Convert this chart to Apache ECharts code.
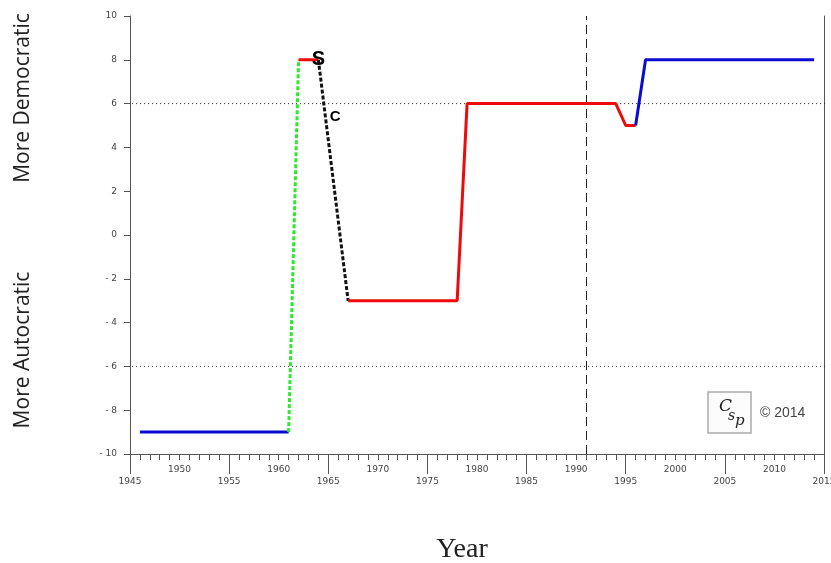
<!DOCTYPE html>
<html>
<head>
<meta charset="utf-8">
<script src="https://cdn.jsdelivr.net/npm/echarts@6/dist/echarts.min.js"></script>
<style>
html,body{margin:0;padding:0;background:#fff;}
#chart{width:831px;height:563px;}
</style>
</head>
<body>
<div id="chart"></div>
<script>
// ---- data ----
var blueEarly   = [[1946,-9],[1961,-9]];
var greenShift  = [[1961,-9],[1962,8]];
var redShort    = [[1962,8],[1964,8]];
var blackShift  = [[1964,8],[1967,-3]];
var redLong     = [[1967,-3],[1978,-3],[1979,6],[1994,6],[1995,5],[1996,5]];
var blueLate    = [[1996,5],[1997,8],[2014,8]];
var eventMarks  = [[1964,8,'S'],[1965.7,5.4,'C']];
var refLevels   = [6,-6];
var eventYear   = 1991;
var longTickYears = [1945,1955,1965,1975,1985,1995,2005,2015];

var chart = echarts.init(document.getElementById('chart'));

function seg(name, data, color, type){
  return {
    name: name, type: 'line', data: data, showSymbol: false, symbol: 'none',
    lineStyle: {color: color, width: 3, type: type || 'solid'},
    z: 5
  };
}

var refSeries = refLevels.map(function(v){
  return {
    type: 'line', data: [[1944, v],[2015.8, v]], clip: false, showSymbol: false, symbol:'none',
    lineStyle: {color: '#222', width: 1, type: [1,3]}, z: 2, silent: true
  };
});

var option = {
  animation: false,
  backgroundColor: '#fff',
  grid: {left: 130, right: 7, top: 16, bottom: 109, containLabel: false, outerBoundsMode: 'none'},
  xAxis: [{
    type: 'value', min: 1945, max: 2015, interval: 5,
    axisLine: {show: true, onZero: false, lineStyle: {color: '#555', width: 1}},
    axisTick: {show: true, length: 6, lineStyle: {color: '#555'}},
    minorTick: {show: true, splitNumber: 5, length: 6, lineStyle: {color: '#555'}},
    splitLine: {show: false},
    axisLabel: {
      fontFamily: 'DejaVu Sans', fontSize: 9, color: '#444', margin: 10, lineHeight: 12,
      formatter: function(v){ return (v % 10 === 0) ? String(v) : '\n' + v; }
    }
  },{
    type: 'value', min: 1945, max: 2015, position: 'bottom',
    axisLine: {show: false, onZero: false},
    axisTick: {show: true, length: 20, customValues: longTickYears, lineStyle: {color: '#555'}},
    axisLabel: {show: false},
    splitLine: {show: false}
  }],
  yAxis: [{
    type: 'value', min: -10, max: 10, interval: 2,
    axisLine: {show: true, onZero: false, lineStyle: {color: '#555', width: 1}},
    axisTick: {show: true, length: 6, lineStyle: {color: '#555'}},
    splitLine: {show: false},
    axisLabel: {fontFamily: 'DejaVu Sans', fontSize: 9, color: '#444', margin: 13,
      formatter: function(v){ return v < 0 ? '- ' + Math.abs(v) : String(v); }}
  },{
    type: 'value', min: -10, max: 10, position: 'right',
    axisLine: {show: true, onZero: false, lineStyle: {color: '#555', width: 1}},
    axisTick: {show: false}, axisLabel: {show: false}, splitLine: {show: false}
  }],
  series: [
    seg('blueEarly', blueEarly, '#0a0ad2'),
    seg('greenShift', greenShift, '#2de82d', [4,2]),
    seg('redShort', redShort, '#ee0a0a'),
    seg('blackShift', blackShift, '#111', [4,2]),
    seg('redLong', redLong, '#ee0a0a'),
    seg('blueLate', blueLate, '#0a0ad2'),
    {
      type: 'line', data: [], showSymbol: false,
      markLine: {
        symbol: 'none', silent: true, label: {show: false},
        lineStyle: {color: '#222', width: 1, type: [9,5]},
        data: [{xAxis: eventYear}]
      }
    },
    {
      type: 'scatter', symbolSize: 0, z: 10,
      data: eventMarks.map(function(d, i){
        return {
          value: [d[0], d[1]],
          label: {
            show: true, position: 'inside', formatter: d[2],
            fontFamily: 'Liberation Sans', fontWeight: 'bold',
            fontSize: i === 0 ? 20 : 15, color: '#000', opacity: 1
          }
        };
      })
    }
  ].concat(refSeries),
  graphic: [
    {type: 'text', x: 23, y: 98, rotation: Math.PI/2, style: {text: 'More Democratic', font: '21px "Open Sans"', fill: '#222', align: 'center', verticalAlign: 'middle'}},
    {type: 'text', x: 23, y: 350, rotation: Math.PI/2, style: {text: 'More Autocratic', font: '21px "Open Sans"', fill: '#222', align: 'center', verticalAlign: 'middle'}},
    {type: 'text', x: 462, y: 550, style: {text: 'Year', font: '28px "Liberation Serif"', fill: '#222', align: 'center', verticalAlign: 'middle'}},
    {type: 'rect', shape: {x: 708, y: 392, width: 43, height: 41}, style: {fill: '#fcfcfc', stroke: '#aaa', lineWidth: 1.5}},
    {type: 'text', x: 719, y: 398, style: {text: 'C', font: 'italic 17px "DejaVu Serif"', fill: '#222'}},
    {type: 'text', x: 728, y: 409, style: {text: 's', font: 'italic 14px "DejaVu Serif"', fill: '#222'}},
    {type: 'text', x: 735, y: 414, style: {text: 'p', font: 'italic 15px "DejaVu Serif"', fill: '#222'}},
    {type: 'text', x: 760, y: 413, style: {text: '© 2014', font: '14px "Liberation Sans"', fill: '#444', verticalAlign: 'middle'}}
  ]
};
chart.setOption(option);
</script>
</body>
</html>
